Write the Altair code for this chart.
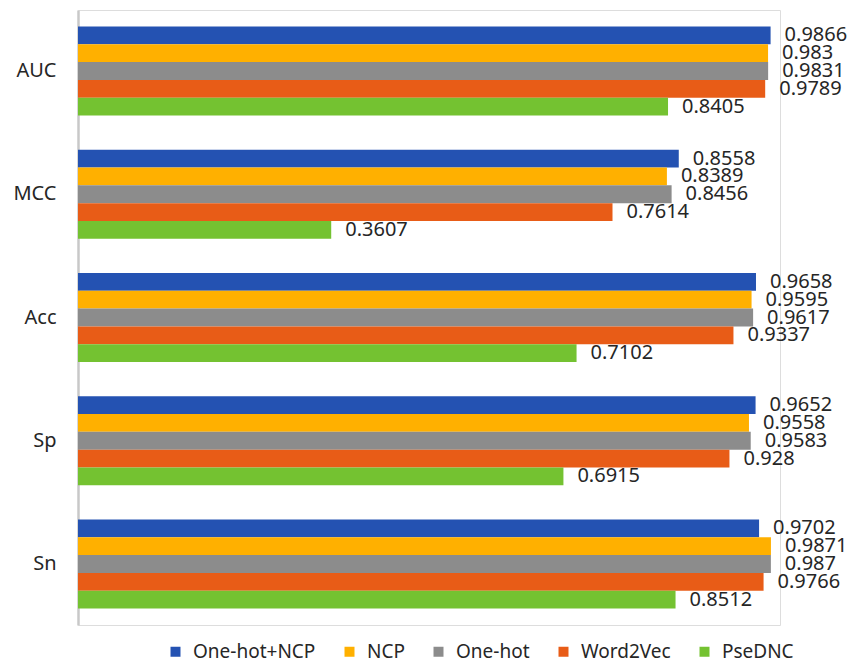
import altair as alt
import pandas as pd

metrics = ["AUC", "MCC", "Acc", "Sp", "Sn"]
methods = ["One-hot+NCP", "NCP", "One-hot", "Word2Vec", "PseDNC"]
colors = ["#2452B2", "#FFB000", "#8C8C8C", "#E85C17", "#74C231"]

# score per metric, one list per method (same order as metrics)
one_hot_ncp = [0.9866, 0.8558, 0.9658, 0.9652, 0.9702]
ncp = [0.983, 0.8389, 0.9595, 0.9558, 0.9871]
one_hot = [0.9831, 0.8456, 0.9617, 0.9583, 0.987]
word2vec = [0.9789, 0.7614, 0.9337, 0.928, 0.9766]
psednc = [0.8405, 0.3607, 0.7102, 0.6915, 0.8512]

series = [one_hot_ncp, ncp, one_hot, word2vec, psednc]
rows = []
for method, vals in zip(methods, series):
    for metric, v in zip(metrics, vals):
        rows.append({"metric": metric, "method": method, "value": v,
                     "label": f"{v:g}"})
df = pd.DataFrame(rows)

FONT = "Noto Sans"

y_enc = alt.Y("metric:N", sort=metrics, title=None,
              scale=alt.Scale(paddingInner=0.278, paddingOuter=0.134),
              axis=alt.Axis(ticks=False, domainColor="#C8C8C8", domainWidth=2.5,
                            labelFont=FONT, labelFontSize=20, labelColor="#262626",
                            labelPadding=22, grid=False))
yoff = alt.YOffset("method:N", sort=methods,
                   scale=alt.Scale(paddingInner=0, paddingOuter=0))
x_enc = alt.X("value:Q", scale=alt.Scale(domain=[0, 1], nice=False, zero=True),
              axis=None)

bars = alt.Chart(df).mark_bar(cornerRadius=0).encode(
    x=x_enc,
    y=y_enc,
    yOffset=yoff,
    color=alt.Color("method:N", sort=methods,
                    scale=alt.Scale(domain=methods, range=colors),
                    legend=alt.Legend(title=None, orient="none", direction="horizontal",
                                      legendX=88, legendY=632,
                                      symbolType="square", symbolSize=100,
                                      symbolStrokeWidth=0, labelFont=FONT,
                                      labelFontSize=19, labelColor="#262626",
                                      labelOffset=8, columnPadding=24,
                                      padding=0)),
)

labels = alt.Chart(df).mark_text(align="left", baseline="middle", dx=14,
                                 font=FONT, fontSize=20, color="#262626").encode(
    x=x_enc,
    y=alt.Y("metric:N", sort=metrics),
    yOffset=alt.YOffset("method:N", sort=methods),
    text="label:N",
)

chart = alt.layer(bars, labels).properties(
    width=702, height=615,
    autosize=alt.AutoSizeParams(type="none"),
    padding={"left": 78, "top": 10, "right": 72, "bottom": 39},
).configure_view(stroke=None).configure(background="white")

chart.save("out.html", embed_options={"renderer": "svg", "actions": False})
